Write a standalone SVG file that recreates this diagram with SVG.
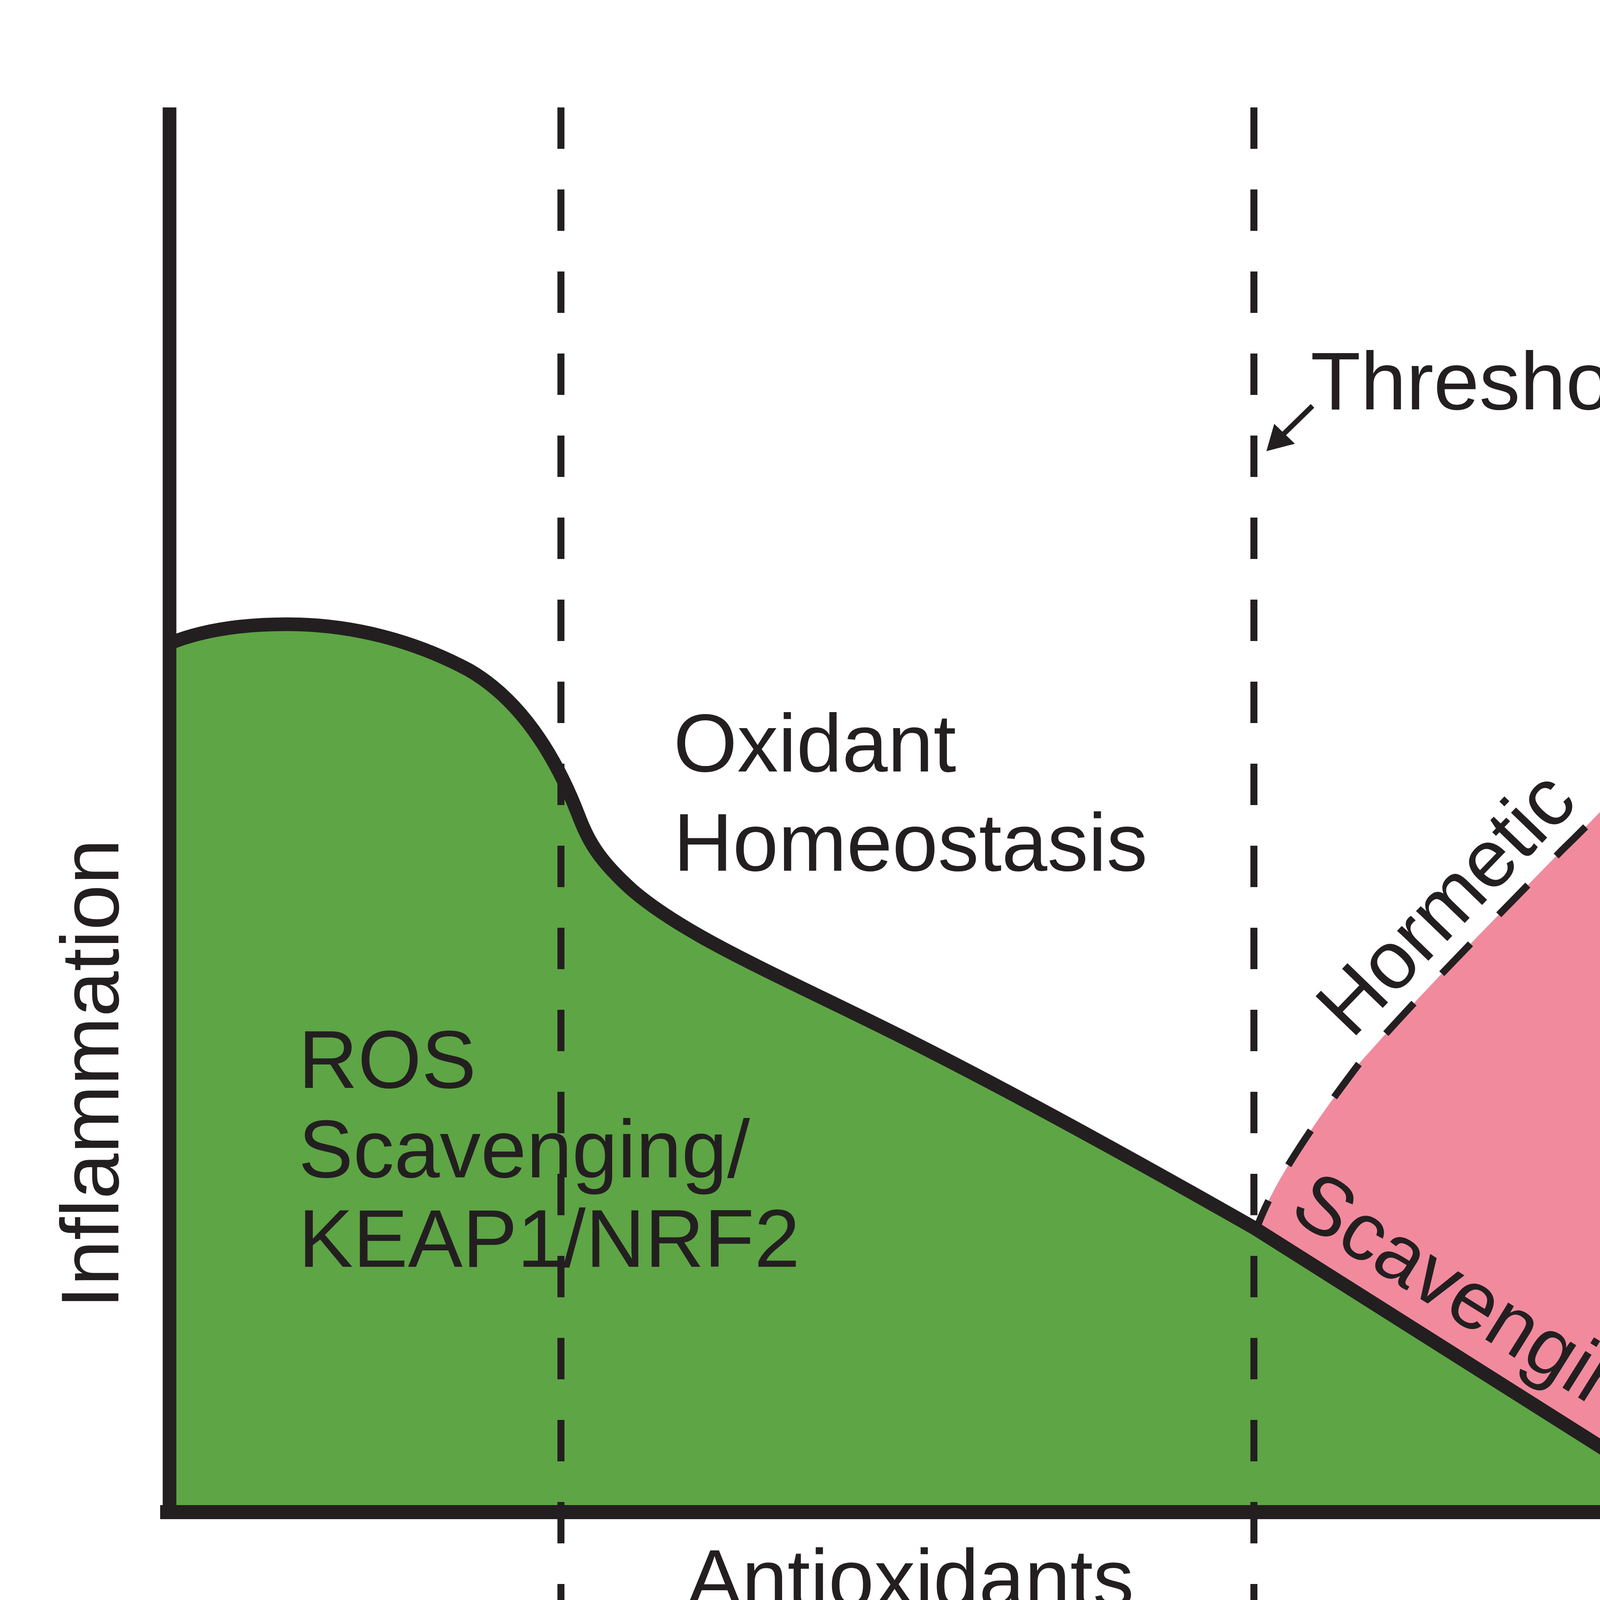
<svg xmlns="http://www.w3.org/2000/svg" width="4584" height="6251" viewBox="0 0 4584 6251">
<style>
.t{font-family:"Liberation Sans",Arial,sans-serif;fill:#231F20;font-size:210px}
.w{font-family:"Liberation Sans",Arial,sans-serif;fill:#FFFFFF}
.dash{stroke:#231F20;stroke-width:18;fill:none;stroke-dasharray:106 104}
.ax{stroke:#231F20;fill:none}
</style>
<rect x="0" y="0" width="4584" height="6251" fill="#FFFFFF"/>
<g id="areas">
<path id="green" fill="#5EA545" d="M 434,1647 C 520,1612 620,1598 735,1598 C 900,1598 1060,1640 1200,1715 C 1330,1790 1420,1930 1480,2085 C 1505,2150 1530,2200 1620,2280 C 1760,2400 2000,2500 2300,2650 C 2600,2800 2950,2995 3210,3143 L 4357,3868 L 434,3871 Z"/>
<path id="pink" fill="#F18A9D" d="M 3215,3150 C 3250,3050 3330,2920 3480,2722 C 3640,2540 3800,2380 4000,2175 C 4150,2030 4280,1880 4350,1788 L 4360,3870 L 4357,3868 Z"/>
</g>
<g id="connectors">
<path id="curve" class="ax" stroke-width="35" stroke-linejoin="round" d="M 434,1647 C 520,1612 620,1598 735,1598 C 900,1598 1060,1640 1200,1715 C 1330,1790 1420,1930 1480,2085 C 1505,2150 1530,2200 1620,2280 C 1760,2400 2000,2500 2300,2650 C 2600,2800 2950,2995 3210,3143 L 4357,3868"/>
<path id="hormetic-curve" class="dash" stroke-dasharray="110 100" stroke-dashoffset="23" d="M 3215,3150 C 3250,3050 3330,2920 3480,2722 C 3640,2540 3800,2380 4000,2175 C 4150,2030 4280,1880 4350,1788"/>
<line id="y-axis" class="ax" stroke-width="35" x1="434" y1="275" x2="434" y2="3889"/>
<line id="x-axis" class="ax" stroke-width="36" x1="410" y1="3871" x2="4440" y2="3871"/>
<line id="threshold-arrow" class="ax" stroke-width="13" x1="3360" y1="1039" x2="3280" y2="1117"/>
<polygon fill="#231F20" points="3242,1155 3262,1085 3315,1136"/>
</g>
<g id="bottom-arrows">
<path id="health-arrow" fill="#0E1240" d="M 153,4557 L 2894,4557 L 2894,4364 L 3208,4950 L 2894,5543 L 2894,5352 L 153,5352 Z"/>
<path id="benefit-arrow" fill="#83B6D6" d="M 3210,4557 L 4125,4557 L 4125,4364 L 4442,4954 L 4125,5543 L 4125,5352 L 3210,5352 Z"/>
</g>
<g id="dashed-lines">
<line class="dash" x1="1436" y1="275" x2="1436" y2="6052"/>
<line class="dash" x1="3210" y1="275" x2="3210" y2="6052"/>
</g>
<g id="labels">
<text class="t" x="3355" y="1048">Threshold</text>
<text class="t" x="1724" y="1975">Oxidant</text>
<text class="t" x="1724" y="2229">Homeostasis</text>
<text class="t" x="764" y="2785">ROS</text>
<text class="t" x="764" y="3014">Scavenging/</text>
<text class="t" x="764" y="3243">KEAP1/NRF2</text>
<text class="t" transform="translate(303,3350) rotate(-90)">Inflammation</text>
<text class="t" x="1759" y="4113">Antioxidants</text>
<text class="t" transform="translate(3460,2663) rotate(-46)">Hormetic</text>
<text class="t" transform="translate(3295,3112) rotate(32)">Scavenging</text>
</g>
<g id="health-node">
<text class="w" x="436" y="5019" font-size="210">Health</text>
<path fill="none" stroke="#FFFFFF" stroke-width="24" d="M 1391,4655 C 1350,4655 1334,4680 1334,4760 L 1334,4860 C 1334,4925 1310,4945 1269,4952 C 1310,4960 1334,4980 1334,5045 L 1334,5145 C 1334,5225 1350,5252 1391,5252"/>
<rect x="1587" y="4658" width="18" height="108" fill="#FFFFFF"/>
<polygon fill="#FFFFFF" points="1558,4761 1634,4761 1596,4829"/>
<rect x="1587" y="4869" width="18" height="106" fill="#FFFFFF"/>
<polygon fill="#FFFFFF" points="1558,4970 1634,4970 1596,5037"/>
<text class="w" x="1708" y="4828" font-size="176">oxidants</text>
<text class="w" x="1708" y="5037" font-size="176">damage DNA,</text>
<text class="w" x="1708" y="5247" font-size="176">protein, lipid</text>
</g>
<g id="benefit-node">
<text class="t" x="3239" y="5042">Net Benefit?</text>
</g>
</svg>
